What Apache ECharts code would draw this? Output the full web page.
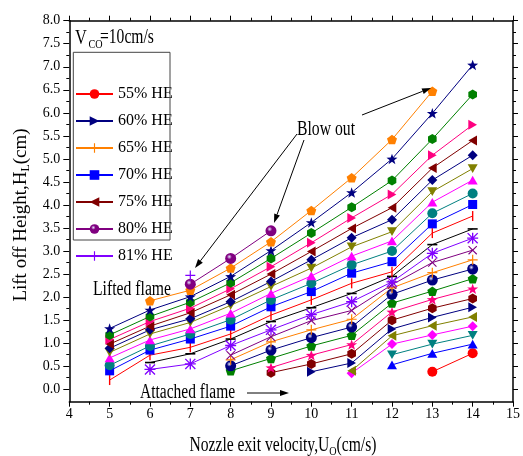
<!DOCTYPE html>
<html><head><meta charset="utf-8">
<script src="https://cdn.jsdelivr.net/npm/echarts@6/dist/echarts.min.js"></script>
<style>html,body{margin:0;padding:0;background:#fff}#c{width:523px;height:456px}</style>
</head><body><div id="c"></div>
<script>
// ---- data (x = nozzle exit velocity, cm/s) ----
const xs = [5, 6, 7, 8, 9, 10, 11, 12, 13, 14];
const he81 = [null, null, 2.47, null, null, null, null, null, null, null];
const he80 = [null, null, 2.28, 2.84, 3.44, null, null, null, null, null];
const he79 = [null, 1.92, 2.15, 2.63, 3.20, 3.88, 4.59, 5.42, 6.47, null];
const he78 = [1.32, 1.72, 2.01, 2.45, 3.01, 3.62, 4.27, 5.00, 5.99, 7.04];
const he77 = [1.18, 1.58, 1.89, 2.31, 2.84, 3.39, 3.95, 4.53, 5.43, 6.40];
const he76 = [1.08, 1.47, 1.76, 2.18, 2.66, 3.18, 3.72, 4.23, 5.08, 5.74];
const he75 = [0.98, 1.37, 1.66, 2.05, 2.50, 2.99, 3.49, 3.94, 4.80, 5.40];
const he74 = [0.89, 1.29, 1.53, 1.90, 2.34, 2.81, 3.29, 3.68, 4.54, 5.08];
const he73 = [0.80, 1.20, 1.45, 1.82, 2.23, 2.63, 3.09, 3.42, 4.29, 4.79];
const he72 = [0.68, 1.07, 1.31, 1.65, 2.08, 2.46, 2.89, 3.22, 4.06, 4.54];
const he71 = [0.52, 0.94, 1.20, 1.51, 1.94, 2.30, 2.70, 3.00, 3.82, 4.25];
const he70 = [0.40, 0.85, 1.09, 1.37, 1.79, 2.12, 2.52, 2.77, 3.59, 4.01];
const he69 = [0.20, 0.74, 0.91, 1.20, 1.61, 1.94, 2.30, 2.55, 3.39, 3.76];
const he68 = [null, 0.58, 0.77, 1.09, 1.47, 1.77, 2.08, 2.45, 3.14, 3.48];
const he67 = [null, 0.43, 0.55, 0.95, 1.29, 1.62, 1.90, 2.33, 2.95, 3.28];
const he66 = [null, null, null, 0.74, 1.14, 1.49, 1.71, 2.27, 2.75, 3.02];
const he65 = [null, null, null, 0.64, 1.03, 1.29, 1.52, 2.20, 2.53, 2.81];
const he64 = [null, null, null, 0.51, 0.85, 1.12, 1.35, 2.06, 2.37, 2.61];
const he63 = [null, null, null, 0.40, 0.67, 0.94, 1.17, 1.87, 2.13, 2.40];
const he62 = [null, null, null, null, 0.47, 0.74, 0.97, 1.68, 1.95, 2.18];
const he61 = [null, null, null, null, 0.36, 0.55, 0.77, 1.50, 1.76, 1.97];
const he60 = [null, null, null, null, null, 0.38, 0.57, 1.31, 1.56, 1.78];
const he59 = [null, null, null, null, null, null, 0.40, 1.16, 1.38, 1.57];
const he58 = [null, null, null, null, null, null, 0.35, 0.98, 1.18, 1.37];
const he57 = [null, null, null, null, null, null, null, 0.75, 0.98, 1.17];
const he56 = [null, null, null, null, null, null, null, 0.53, 0.78, 0.98];
const he55 = [null, null, null, null, null, null, null, null, 0.38, 0.78];

const seriesNames = ['55% HE','56% HE','57% HE','58% HE','59% HE','60% HE','61% HE','62% HE','63% HE',
  '64% HE','65% HE','66% HE','67% HE','68% HE','69% HE','70% HE','71% HE','72% HE','73% HE','74% HE',
  '75% HE','76% HE','77% HE','78% HE','79% HE','80% HE','81% HE'];
const seriesValues = [he55,he56,he57,he58,he59,he60,he61,he62,he63,he64,he65,he66,he67,he68,he69,he70,
  he71,he72,he73,he74,he75,he76,he77,he78,he79,he80,he81];
const legendNames = ['55% HE','60% HE','65% HE','70% HE','75% HE','80% HE','81% HE'];
const yMajor = [0,0.5,1,1.5,2,2.5,3,3.5,4,4.5,5,5.5,6,6.5,7,7.5,8];
const yMinor = [0.25,0.75,1.25,1.75,2.25,2.75,3.25,3.75,4.25,4.75,5.25,5.75,6.25,6.75,7.25,7.75];

// ---- styles ----
const colorCycle = ['#ff0000','#0000ff','#008080','#ff00ff','#808000','#000080','#800000','#ff0080',
  '#008000','#000080','#ff8000','#800080','#8000ff','#000000'];
const SYM = {
  circle: ['circle', 10],
  up: ['path://M5,0L10,8.66L0,8.66Z', 10],
  down: ['path://M0,0L10,0L5,8.66Z', 10],
  diamond: ['path://M5,0L10,5L5,10L0,5Z', 10],
  left: ['path://M8.66,0L0,5L8.66,10Z', 10],
  right: ['path://M0,0L8.66,5L0,10Z', 10],
  hexagon: ['path://M5,0L9.33,2.5L9.33,7.5L5,10L0.67,7.5L0.67,2.5Z', 10],
  star: ['path://M5,0L6.18,3.38L9.76,3.46L6.9,5.62L7.94,9.05L5,7L2.06,9.05L3.1,5.62L0.24,3.46L3.82,3.38Z', 11],
  pentagon: ['path://M5,0L9.76,3.46L7.94,9.05L2.06,9.05L0.24,3.46Z', 10],
  sphere: ['circle', 11],
  plus: ['path://M4.4,0h1.2v10h-1.2zM0,4.4h10v1.2h-10z', 10],
  cross: ['path://M0,0.85L0.85,0L10,9.15L9.15,10ZM9.15,0L10,0.85L0.85,10L0,9.15Z', 9],
  aster: ['path://M4.4,0h1.2v10h-1.2zM0,4.4h10v1.2h-10zM0,0.85L0.85,0L10,9.15L9.15,10ZM9.15,0L10,0.85L0.85,10L0,9.15Z', 11],
  dash: ['path://M0,4.2h10v1.6h-10z', 10],
  bar: ['path://M4.3,0h1.4v10h-1.4z', 10],
  square: ['rect', 9]
};
const symCycle = ['circle','up','down','diamond','left','right','hexagon','star','pentagon','sphere',
  'plus','cross','aster','dash','bar','square'];
const FONT = "'Liberation Serif','Times New Roman',serif";

function sphereFill(c) {
  return {type:'radial', x:0.38, y:0.35, r:0.65, colorStops:[
    {offset:0, color:'#e8e8ff'}, {offset:0.35, color:c}, {offset:1, color:c}]};
}

const series = seriesNames.map((name, i) => {
  const col = colorCycle[i % colorCycle.length];
  const sk = symCycle[i % symCycle.length];
  const data = [];
  seriesValues[i].forEach((v, j) => { if (v !== null) data.push([xs[j], v]); });
  return {
    type:'line', name, data,
    symbol: SYM[sk][0], symbolSize: SYM[sk][1], symbolKeepAspect: true,
    showAllSymbol: true,
    itemStyle: {color: sk === 'sphere' ? sphereFill(col) : col, opacity: 1, borderWidth: 0},
    lineStyle: {color: col, width: 1},
    emphasis: {disabled: true},
    animation: false
  };
});

function arrow(x1, y1, x2, y2, head, w) {
  head = head || 9; w = w || 3;
  const dx = x2 - x1, dy = y2 - y1, L = Math.hypot(dx, dy), ux = dx / L, uy = dy / L;
  const bx = x2 - ux * head, by = y2 - uy * head;
  return [
    {type:'line', shape:{x1, y1, x2:bx, y2:by}, style:{stroke:'#000', lineWidth:1}, z:50},
    {type:'polygon', shape:{points:[[x2, y2], [bx - uy * w, by + ux * w], [bx + uy * w, by - ux * w]]},
     style:{fill:'#000'}, z:50}
  ];
}
function label(x, y, text, size, sx) {
  return {type:'text', x, y, scaleX: sx, z:50,
    style:{text, x:0, y:0, fontFamily:FONT, fontSize:size, fill:'#000', align:'left', verticalAlign:'middle'}};
}

const axisLine = {show:true, onZero:false, lineStyle:{color:'#000', width:1.5}};
const tickStyle = {color:'#000', width:1};

const option = {
  backgroundColor:'#fff',
  animation:false,
  grid:{left:69.3, right:8, top:20.7, bottom:54.3, containLabel:false},
  xAxis:[
    {type:'value', min:4, max:15, interval:1, position:'bottom',
     axisLine, splitLine:{show:false},
     axisTick:{show:true, inside:false, length:5, lineStyle:tickStyle},
     minorTick:{show:true, splitNumber:2, length:3, lineStyle:tickStyle},
     axisLabel:{fontFamily:FONT, fontSize:14, color:'#000', margin:6}},
    {type:'value', min:4, max:15, interval:1, position:'top',
     axisLine, splitLine:{show:false},
     axisTick:{show:true, inside:false, length:5, lineStyle:tickStyle},
     minorTick:{show:true, splitNumber:2, length:3, lineStyle:tickStyle},
     axisLabel:{show:false}}
  ],
  yAxis:[
    {type:'value', min:-0.27, max:8, position:'left',
     axisLine, splitLine:{show:false},
     axisTick:{show:true, inside:false, length:6, lineStyle:tickStyle, customValues:yMajor},
     axisLabel:{fontFamily:FONT, fontSize:14, color:'#000', margin:9, customValues:yMajor,
       formatter:(v) => Number(v).toFixed(1)}},
    {type:'value', min:-0.27, max:8, position:'left',
     axisLine:{show:false}, splitLine:{show:false},
     axisTick:{show:true, inside:false, length:3, lineStyle:tickStyle, customValues:yMinor},
     axisLabel:{show:false}},
    {type:'value', min:-0.27, max:8, position:'right',
     axisLine, splitLine:{show:false},
     axisTick:{show:true, inside:false, length:5, lineStyle:tickStyle, customValues:yMajor},
     axisLabel:{show:false}},
    {type:'value', min:-0.27, max:8, position:'right',
     axisLine:{show:false}, splitLine:{show:false},
     axisTick:{show:true, inside:false, length:3, lineStyle:tickStyle, customValues:yMinor},
     axisLabel:{show:false}}
  ],
  legend:{
    data: legendNames, orient:'vertical', left:75, top:86,
    itemWidth:37, itemHeight:12, itemGap:11, padding:0, selectedMode:false,
    textStyle:{fontFamily:FONT, fontSize:16, color:'#000', lineHeight:12}
  },
  series,
  graphic:[
    {type:'rect', shape:{x:73.3, y:52.3, width:96.7, height:187.7},
     style:{fill:'none', stroke:'#444', lineWidth:1}, z:40},
    label(75, 38, 'V', 21, 0.78),
    {type:'text', x:88.5, y:45, scaleX:0.78, z:50,
      style:{text:'CO', x:0, y:0, fontFamily:FONT, fontSize:13, fill:'#000', align:'left', verticalAlign:'middle'}},
    label(100, 38, '=10cm/s', 20, 0.78),
    label(297, 130, 'Blow out', 20, 0.785),
    label(93, 290, 'Lifted flame', 20, 0.785),
    label(140, 393, 'Attached flame', 20, 0.775),
    ...arrow(297, 134, 195, 268),
    ...arrow(304, 140, 274, 223),
    ...arrow(362, 115, 431, 88),
    ...arrow(247, 393, 289, 393),
    {type:'text', x:283, y:446, scaleX:0.78, z:50,
     style:{text:'{a|Nozzle exit velocity,U}{s|O}{a|(cm/s)}', x:0, y:0, align:'center', verticalAlign:'middle',
       rich:{a:{fontFamily:FONT, fontSize:20, fill:'#000', lineHeight:20, verticalAlign:'top'},
             s:{fontFamily:FONT, fontSize:13, fill:'#000', lineHeight:13, padding:[11,0,0,0]}}}},
    {type:'text', x:21, y:215, rotation:Math.PI/2, z:50,
     style:{text:'{a|Lift off Height,H}{s|L}{a|(cm)}', x:0, y:0, align:'center', verticalAlign:'middle',
       rich:{a:{fontFamily:FONT, fontSize:19, fill:'#000', lineHeight:19, verticalAlign:'top'},
             s:{fontFamily:FONT, fontSize:12, fill:'#000', lineHeight:12, padding:[10,0,0,0]}}}}
  ]
};
const chart = echarts.init(document.getElementById('c'), null, {renderer:'canvas'});
chart.setOption(option);
</script></body></html>
